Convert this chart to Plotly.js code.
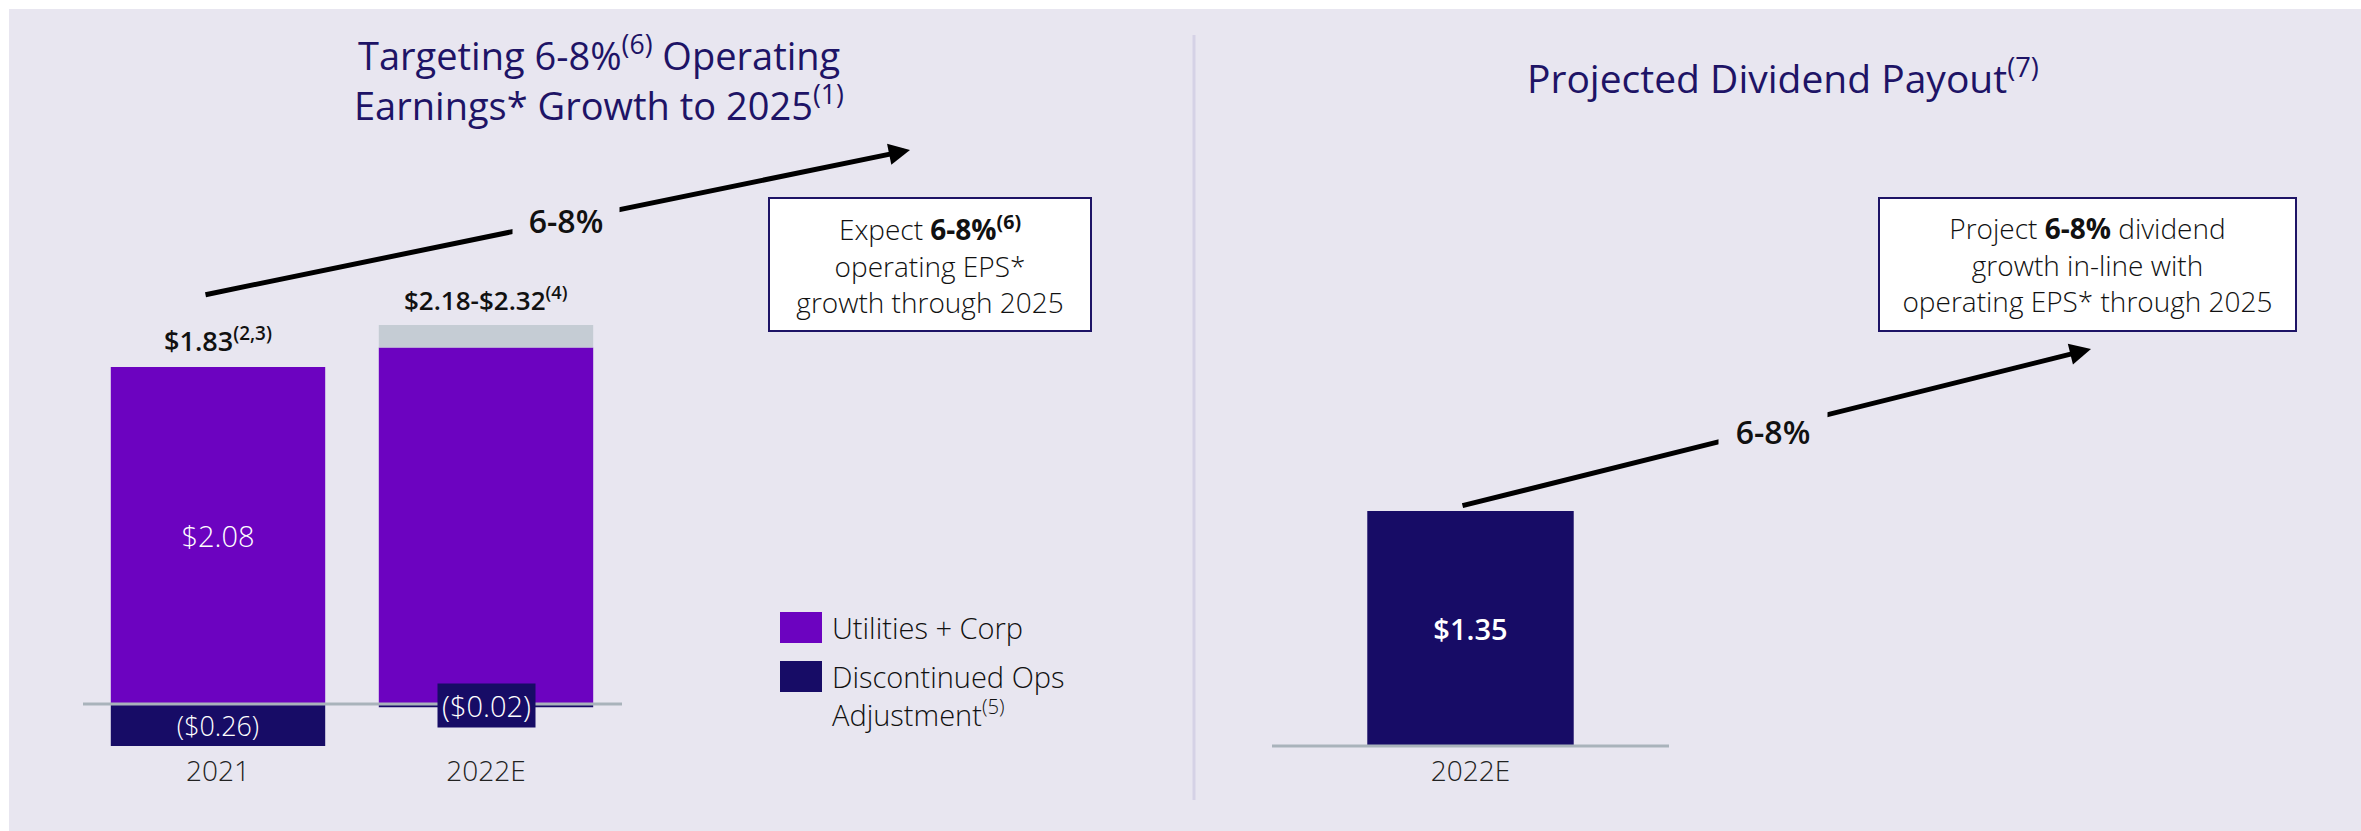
<!DOCTYPE html>
<html>
<head>
<meta charset="utf-8">
<script src="https://cdn.plot.ly/plotly-3.0.1.min.js"></script>
<style>html,body{margin:0;padding:0;background:#fff;}#chart{width:2361px;height:831px;}</style>
</head>
<body>
<div id="chart"></div>
<script>
// ---------- DATA ----------
const categories = ['2021', '2022E'];
const utilitiesCorp = [2.08, 2.20];          // Utilities + Corp
const guidanceBand = [0, 0.14];              // range band on top of 2022E ($2.18-$2.32)
const discontinuedOps = [-0.26, -0.02];      // Discontinued Ops Adjustment
const totalLabels = ['$1.83<sup>(2,3)</sup>', '$2.18-$2.32<sup>(4)</sup>'];
const seriesNames = ['Utilities + Corp', 'Discontinued Ops<br>Adjustment<sup>(5)</sup>'];
const dividendCategories = ['2022E'];
const dividendValues = [1.35];
const growthLabel = '6-8%';
const leftTitleLines = ['Targeting 6-8%<sup>(6)</sup> Operating', 'Earnings* Growth to 2025<sup>(1)</sup>'];
const rightTitle = 'Projected Dividend Payout<sup>(7)</sup>';
const leftBoxText = 'Expect <b>6-8%<sup>(6)</sup></b><br>operating EPS*<br>growth through 2025';
const rightBoxText = 'Project <b>6-8%</b> dividend<br>growth in-line with<br>operating EPS* through 2025';

// ---------- STYLE / GEOMETRY ----------
const W = 2361, H = 831;
const px = v => v / W;
const py = v => 1 - v / H;
const BG = '#e8e6f0', PURPLE = '#6c03c0', NAVY = '#170c66', BAND = '#c5ccd4', TITLE = '#1e1466', BASE = '#a9b3bb';
const FONT = 'Open Sans';
const fmt = v => v < 0 ? '($' + Math.abs(v).toFixed(2) + ')' : '$' + v.toFixed(2);

// left subplot pixel frame
const L = {x0: 84, x1: 620, zero: 704, ppu: 162, top: 234, bottom: 752};
// right subplot pixel frame
const R = {x0: 1272, x1: 1669, zero: 746, ppu: 174, top: 398, bottom: 752};

const traces = [
  {type: 'bar', x: categories, y: utilitiesCorp, name: seriesNames[0], marker: {color: PURPLE},
   text: [fmt(utilitiesCorp[0]), ''], textposition: 'inside', insidetextanchor: 'middle', textangle: 0,
   insidetextfont: {family: FONT, size: 29, color: '#ffffff', weight: 300}, xaxis: 'x', yaxis: 'y', showlegend: false},
  {type: 'bar', x: categories, y: guidanceBand, name: 'Range', marker: {color: BAND},
   xaxis: 'x', yaxis: 'y', showlegend: false},
  {type: 'bar', x: categories, y: discontinuedOps, name: seriesNames[1], marker: {color: NAVY},
   text: [fmt(discontinuedOps[0]), ''], textposition: 'inside', insidetextanchor: 'middle', textangle: 0,
   insidetextfont: {family: FONT, size: 29, color: '#ffffff', weight: 300}, xaxis: 'x', yaxis: 'y', showlegend: false},
  {type: 'bar', x: dividendCategories, y: dividendValues, width: [0.52], marker: {color: NAVY},
   text: dividendValues.map(fmt), textposition: 'inside', insidetextanchor: 'middle', textangle: 0,
   insidetextfont: {family: FONT, size: 29, color: '#ffffff', weight: 600}, xaxis: 'x2', yaxis: 'y2', showlegend: false}
];

const xTick = {family: FONT, size: 28, color: '#222', weight: 300};
const ann = (o) => Object.assign({xanchor: 'center', yanchor: 'middle', showarrow: false}, o);
const layout = {
  width: W, height: H,
  margin: {l: 0, r: 0, t: 0, b: 0, pad: 0},
  paper_bgcolor: '#ffffff', plot_bgcolor: 'rgba(0,0,0,0)',
  font: {family: FONT, color: '#111'},
  barmode: 'relative', bargap: 0.2,
  showlegend: false, hovermode: false,
  xaxis: {domain: [px(L.x0), px(L.x1)], range: [-0.5, 1.5], type: 'category', showgrid: false, zeroline: false,
          showline: false, ticks: '', tickfont: xTick, anchor: 'y', fixedrange: true},
  yaxis: {domain: [py(L.bottom), py(L.top)], range: [(L.zero - L.bottom) / L.ppu, (L.zero - L.top) / L.ppu],
          visible: false, showgrid: false, zeroline: false, fixedrange: true},
  xaxis2: {domain: [px(R.x0), px(R.x1)], range: [-0.5, 0.5], type: 'category', showgrid: false, zeroline: false,
           showline: false, ticks: '', tickfont: xTick, anchor: 'y2', fixedrange: true},
  yaxis2: {domain: [py(R.bottom), py(R.top)], range: [(R.zero - R.bottom) / R.ppu, (R.zero - R.top) / R.ppu],
           visible: false, showgrid: false, zeroline: false, fixedrange: true},
  shapes: [
    {type: 'rect', xref: 'paper', yref: 'paper', x0: px(9), x1: 1, y0: 0, y1: py(9), fillcolor: BG, line: {width: 0}, layer: 'below'},
    {type: 'line', xref: 'paper', yref: 'paper', x0: px(1194), x1: px(1194), y0: py(35), y1: py(800), line: {color: '#d5d2e6', width: 3}, layer: 'below'},
    {type: 'line', xref: 'paper', yref: 'y', x0: px(83), x1: px(622), y0: 0, y1: 0, line: {color: BASE, width: 3}, layer: 'above'},
    {type: 'line', xref: 'paper', yref: 'y2', x0: px(1272), x1: px(1669), y0: 0, y1: 0, line: {color: BASE, width: 3}, layer: 'above'},
    // legend swatches
    {type: 'rect', xref: 'paper', yref: 'paper', x0: px(780), x1: px(822), y0: py(643), y1: py(612), fillcolor: PURPLE, line: {width: 0}},
    {type: 'rect', xref: 'paper', yref: 'paper', x0: px(780), x1: px(822), y0: py(692), y1: py(661), fillcolor: NAVY, line: {width: 0}}
  ],
  annotations: [
    // titles
    ann({xref: 'paper', yref: 'paper', x: px(599), y: py(53.5), text: leftTitleLines[0], font: {family: FONT, size: 38, color: TITLE, weight: 500}}),
    ann({xref: 'paper', yref: 'paper', x: px(599), y: py(103.5), text: leftTitleLines[1], font: {family: FONT, size: 38, color: TITLE, weight: 500}}),
    ann({xref: 'paper', yref: 'paper', x: px(1783), y: py(76), text: rightTitle, font: {family: FONT, size: 39, color: TITLE, weight: 500}}),
    // totals above bars
    ann({xref: 'x', yref: 'y', x: 0, y: utilitiesCorp[0] + guidanceBand[0], yanchor: 'bottom', yshift: 6,
     text: totalLabels[0], font: {family: FONT, size: 27, color: '#111', weight: 600}}),
    ann({xref: 'x', yref: 'y', x: 1, y: utilitiesCorp[1] + guidanceBand[1], yanchor: 'bottom', yshift: 5,
     text: totalLabels[1], font: {family: FONT, size: 26, color: '#111', weight: 600}}),
    // small negative label box
    ann({xref: 'x', yref: 'y', x: 1, y: discontinuedOps[1] / 2,
     text: fmt(discontinuedOps[1]), bgcolor: NAVY, borderpad: 2, width: 93,
     font: {family: FONT, size: 29, color: '#ffffff', weight: 300}}),
    // growth arrows
    {xref: 'paper', yref: 'paper', x: px(910), y: py(150), ax: -706, ay: 145, axref: 'pixel', ayref: 'pixel', text: '',
     showarrow: true, arrowhead: 2, arrowsize: 0.85, arrowwidth: 5, arrowcolor: '#000', standoff: 0},
    ann({xref: 'paper', yref: 'paper', x: px(566), y: py(220), text: growthLabel, bgcolor: BG, borderpad: 8, width: 90,
     font: {family: FONT, size: 32, color: '#111', weight: 600}}),
    {xref: 'paper', yref: 'paper', x: px(2091), y: py(349), ax: -630, ay: 157, axref: 'pixel', ayref: 'pixel', text: '',
     showarrow: true, arrowhead: 2, arrowsize: 0.85, arrowwidth: 5, arrowcolor: '#000', standoff: 0},
    ann({xref: 'paper', yref: 'paper', x: px(1773), y: py(431), text: growthLabel, bgcolor: BG, borderpad: 8, width: 92,
     font: {family: FONT, size: 32, color: '#111', weight: 600}}),
    // callout boxes
    ann({xref: 'paper', yref: 'paper', x: px(930), y: py(264.5),
     text: leftBoxText, bgcolor: '#ffffff', bordercolor: TITLE, borderwidth: 2, borderpad: 0, width: 320, height: 131,
     font: {family: FONT, size: 28, color: '#111', weight: 300}}),
    ann({xref: 'paper', yref: 'paper', x: px(2087), y: py(264.5),
     text: rightBoxText, bgcolor: '#ffffff', bordercolor: TITLE, borderwidth: 2, borderpad: 0, width: 415, height: 131,
     font: {family: FONT, size: 28, color: '#111', weight: 300}}),
    // legend labels
    ann({xref: 'paper', yref: 'paper', x: px(830), y: py(627), xanchor: 'left', align: 'left',
     text: seriesNames[0], font: {family: FONT, size: 29, color: '#111', weight: 300}}),
    ann({xref: 'paper', yref: 'paper', x: px(830), y: py(695), xanchor: 'left', align: 'left',
     text: seriesNames[1], font: {family: FONT, size: 29, color: '#111', weight: 300}})
  ]
};

Plotly.newPlot('chart', traces, layout, {displayModeBar: false, staticPlot: true});
</script>
</body>
</html>
